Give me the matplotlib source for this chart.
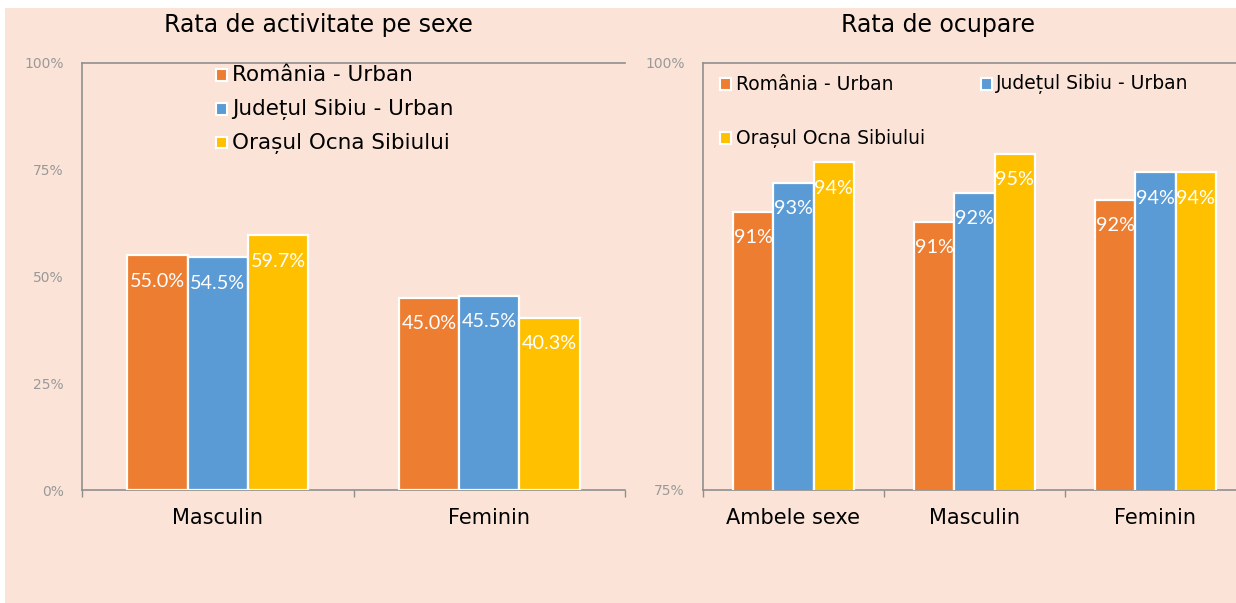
import matplotlib
matplotlib.use("Agg")
import matplotlib.pyplot as plt
from matplotlib.patches import Rectangle
from matplotlib.ticker import FixedLocator, FuncFormatter

plt.rcParams['font.family'] = ['DejaVu Sans']

# Series shared by both panels
series = ["România - Urban", "Județul Sibiu - Urban", "Orașul Ocna Sibiului"]
colors = ["#ED7D31", "#5B9BD5", "#FFC000"]

# Activity rate by sex (%)
act_categories = ["Masculin", "Feminin"]
act_romania = [55.0, 45.0]
act_sibiu = [54.5, 45.5]
act_ocna = [59.7, 40.3]
act_ticks = [0, 25, 50, 75, 100]

# Employment rate (%)
occ_categories = ["Ambele sexe", "Masculin", "Feminin"]
occ_romania = [91.3, 90.7, 92.0]
occ_sibiu = [93.0, 92.4, 93.6]
occ_ocna = [94.2, 94.7, 93.6]
occ_ticks = [75, 100]

W, H = 1236, 603
fig = plt.figure(figsize=(W / 100, H / 100), dpi=100, facecolor="white")
fig.patches.append(Rectangle((5 / W, 0), 1, (H - 8) / H, transform=fig.transFigure,
                             facecolor="#FBE4D7", edgecolor="none", zorder=-10))

GRAY = "#999999"
SPINE = "#8F8F8F"
LABEL_FONT = ['Lato', 'DejaVu Sans']


def panel(rect, categories, values, ylim, yticks, label_fmt, title, title_x):
    left, top, right, bottom = rect
    ax = fig.add_axes([left / W, 1 - bottom / H, (right - left) / W, (bottom - top) / H])
    ax.set_facecolor("none")
    n = len(categories)
    w = 1 / 4.5
    for i, (vals, col) in enumerate(zip(values, colors)):
        xs = [c + 0.5 + (i - 1) * w for c in range(n)]
        ax.bar(xs, vals, width=w, color=col, edgecolor="white", linewidth=1.6, zorder=3)
        for x, v in zip(xs, vals):
            ax.annotate(label_fmt(v), (x, v), xytext=(0, -26), textcoords="offset pixels",
                        ha="center", va="center", color="white", fontsize=14.3,
                        family=LABEL_FONT, zorder=4)
    ax.set_xlim(0, n)
    ax.set_ylim(*ylim)
    ax.yaxis.set_major_locator(FixedLocator(yticks))
    ax.yaxis.set_major_formatter(FuncFormatter(lambda v, p: f"{v:.0f}%"))
    ax.tick_params(axis="y", length=0, pad=13, labelsize=10, labelcolor=GRAY)
    ax.set_xticks([c + 0.5 for c in range(n)])
    ax.set_xticklabels(categories)
    ax.set_xticks(list(range(n + 1)), minor=True)
    ax.tick_params(axis="x", which="major", length=0, pad=13, labelsize=15, labelcolor="black")
    ax.tick_params(axis="x", which="minor", length=5, color=SPINE, width=1)
    for s in ["left", "bottom", "top"]:
        ax.spines[s].set_color(SPINE)
        ax.spines[s].set_linewidth(1.2)
    ax.spines["right"].set_visible(False)
    fig.text(title_x / W, 1 - 25 / H, title, ha="center", va="center", fontsize=17, color="black")
    return ax


panel((82, 63, 625, 490), act_categories, [act_romania, act_sibiu, act_ocna], (0, 100),
      act_ticks, lambda v: f"{v:.1f}%", "Rata de activitate pe sexe", 318)
panel((703, 63, 1246, 490), occ_categories, [occ_romania, occ_sibiu, occ_ocna], (75, 100),
      occ_ticks, lambda v: f"{v:.0f}%", "Rata de ocupare", 938)


def legend_entry(x, y, name, col, size):
    s = 11
    fig.patches.append(Rectangle(((x - s / 2) / W, 1 - (y + s / 2) / H), s / W, s / H,
                                 transform=fig.transFigure, facecolor=col, edgecolor="white",
                                 linewidth=1.5, zorder=5))
    fig.text((x + 10) / W, 1 - y / H, name, ha="left", va="center", fontsize=size, color="black")


# Left legend: single column
for k, (name, col) in enumerate(zip(series, colors)):
    legend_entry(222, 75 + k * 34, name, col, 15.5)

# Right legend: two columns, third entry wraps under the first
right_pos = [(726, 84), (986, 84), (726, 138)]
for (x, y), name, col in zip(right_pos, series, colors):
    legend_entry(x, y, name, col, 13.5)

fig.savefig("out.png", dpi=100, facecolor="white")
